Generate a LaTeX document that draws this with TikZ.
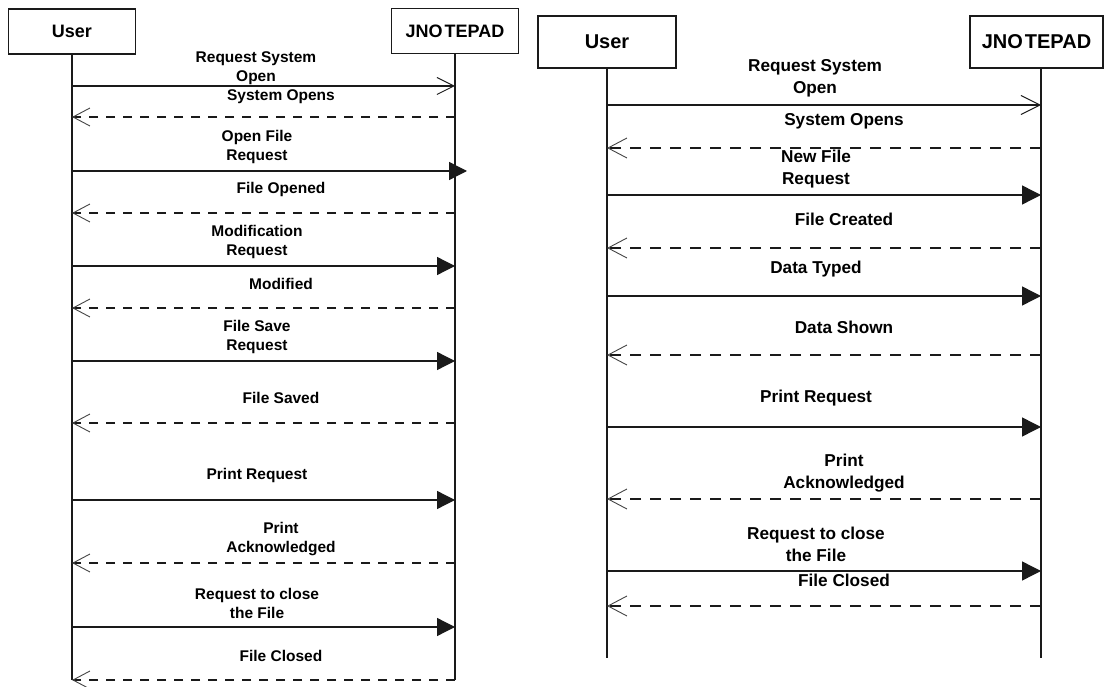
\documentclass[tikz,border=0pt]{standalone}
\usepackage{fontspec}
\setmainfont{Liberation Sans}
\usetikzlibrary{arrows.meta}
\definecolor{ink}{HTML}{1A1A1A}
\definecolor{tipgray}{HTML}{444444}
\tikzset{
  actorbox/.style={draw=ink, line width=1.2pt, inner sep=0pt, text=black},
  actorL/.style={actorbox, minimum width=127pt, minimum height=45pt, font=\bfseries\fontsize{18}{18}\selectfont},
  actorR/.style={actorbox, minimum height=52pt, font=\bfseries\fontsize{20}{20}\selectfont},
  life/.style={draw=ink, line width=1.3pt},
  callL/.style={draw=ink, line width=1.3pt, -{Triangle[length=18pt,width=18pt]}},
  callR/.style={draw=ink, line width=1.4pt, -{Triangle[length=19pt,width=19pt]}},
  openL/.style={draw=ink, line width=1.3pt, -{Straight Barb[length=17pt,width=17pt,line width=1pt]}},
  openR/.style={draw=ink, line width=1.4pt, -{Straight Barb[length=19pt,width=19pt,line width=1pt]}},
  retL/.style={draw=ink, line width=1.3pt, dash pattern=on 9pt off 8pt, -{Straight Barb[length=17pt,width=18pt,line width=0.9pt,color=tipgray]}},
  retR/.style={draw=ink, line width=1.4pt, dash pattern=on 11pt off 9pt, -{Straight Barb[length=19pt,width=20pt,line width=0.9pt,color=tipgray]}},
  lblL/.style={font=\bfseries\fontsize{15.5}{19}\selectfont, align=center, inner sep=0pt},
  lblR/.style={font=\bfseries\fontsize{17.2}{22}\selectfont, align=center, inner sep=0pt},
}
\begin{document}
\begin{tikzpicture}[x=1pt,y=-1pt]
\useasboundingbox (0,0) rectangle (1104,687);
\fill[white] (0,0) rectangle (1104,687);

% ---------------- left diagram ----------------
\node[actorL] (LU) at (72,31.5) {User};
\node[actorL] (LJ) at (455,31) {JNO\hspace{2pt}TEPAD};
\coordinate (LUend) at (72,680);
\coordinate (LJend) at (455,680);
\draw[life] (LU.south) -- (LUend);
\draw[life] (LJ.south) -- (LJend);

% first message: open arrow
\coordinate (Lo1) at (LU.south |- 0,86);
\coordinate (Lo2) at (LJ.south |- 0,86);
\draw[openL] (Lo1) -- (Lo2);
\node[lblL, anchor=south] (Lol) at (256,84.5) {Request System\\Open};

% calls (solid, filled head)
\foreach \y/\xe/\t/\ly [count=\i] in {
  171/467/{Open File\\Request}/147,
  266/455/{Modification\\Request}/242,
  361/455/{File Save\\Request}/337,
  500/455/{Print Request}/475,
  627/455/{Request to close\\the File}/603}{
  \coordinate (Lca\i) at (LU.south |- 0,\y);
  \coordinate (Lcb\i) at (\xe,\y);
  \draw[callL] (Lca\i) -- (Lcb\i);
  \node[lblL] (Lcl\i) at (257,\ly) {\t};
}
% returns (dashed)
\node[lblL, anchor=north] (Lrl1) at (281,89) {System Opens};
\foreach \y/\t/\ly [count=\i from 2] in {
  213/{File Opened}/189,
  308/{Modified}/284,
  423/{File Saved}/398,
  563/{Print\\Acknowledged}/539,
  680/{File Closed}/656}{
  \node[lblL] (Lrl\i) at (281,\ly) {\t};
}
\foreach \y [count=\i] in {117,213,308,423,563,680}{
  \coordinate (Lra\i) at (LJ.south |- 0,\y);
  \coordinate (Lrb\i) at (LU.south |- 0,\y);
  \draw[retL] (Lra\i) -- (Lrb\i);
}

% ---------------- right diagram ----------------
\node[actorR, minimum width=138pt] (RU) at (607,42) {User};
\node[actorR, minimum width=133pt] (RJ) at (1036.5,42) {JNO\hspace{2pt}TEPAD};
\coordinate (RUtop) at (607,68);
\coordinate (RJtop) at (1041,68);
\coordinate (RUend) at (607,658);
\coordinate (RJend) at (1041,658);
\draw[life] (RUtop) -- (RUend);
\draw[life] (RJtop) -- (RJend);

\coordinate (Ro1) at (RUtop |- 0,105);
\coordinate (Ro2) at (RJtop |- 0,105);
\draw[openR] (Ro1) -- (Ro2);
\node[lblR] (Rol) at (815,78) {Request System\\Open};

\foreach \y/\t/\ly [count=\i] in {
  195/{New File\\Request}/169,
  296/{Data Typed}/269,
  427/{Print Request}/398,
  571/{Request to close\\the File}/544.5}{
  \coordinate (Rca\i) at (RUtop |- 0,\y);
  \coordinate (Rcb\i) at (RJtop |- 0,\y);
  \draw[callR] (Rca\i) -- (Rcb\i);
  \node[lblR] (Rcl\i) at (816,\ly) {\t};
}
\foreach \y/\t/\ly [count=\i] in {
  148/{System Opens}/121,
  248/{File Created}/219,
  355/{Data Shown}/327,
  499/{Print\\Acknowledged}/473,
  606/{File Closed}/580}{
  \coordinate (Rra\i) at (RJtop |- 0,\y);
  \coordinate (Rrb\i) at (RUtop |- 0,\y);
  \draw[retR] (Rra\i) -- (Rrb\i);
  \node[lblR] (Rrl\i) at (844,\ly) {\t};
}
\end{tikzpicture}
\end{document}
